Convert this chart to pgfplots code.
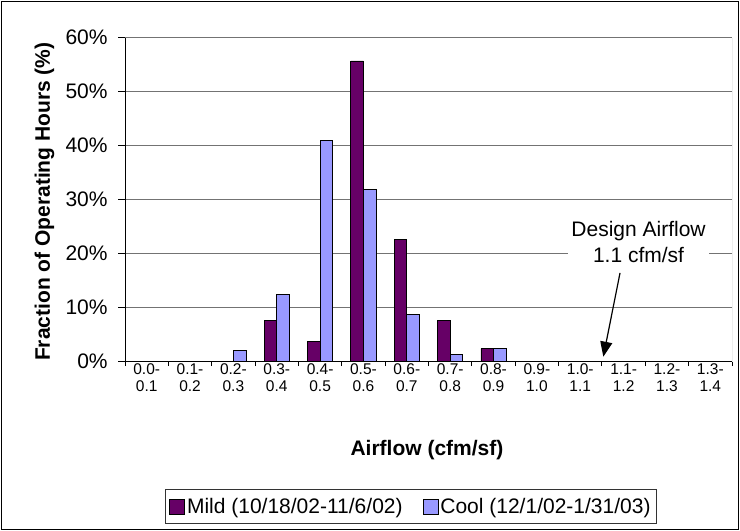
\documentclass[border=0pt]{standalone}
\usepackage{pgfplots}
\pgfplotsset{compat=1.18}
\usepackage{fontspec}
\setmainfont{Liberation Sans}
\usetikzlibrary{arrows.meta}
\definecolor{mild}{HTML}{660066}
\definecolor{cool}{HTML}{9999FF}
\begin{document}
\begin{tikzpicture}[x=1bp,y=1bp]
\path[use as bounding box] (0,0) rectangle (740,531);
\draw[black, line width=1bp] (1.5,1.5) rectangle (738.5,529.5);
\begin{axis}[
  at={(125bp,169.3bp)}, anchor=south west,
  scale only axis, width=607bp, height=324bp,
  ybar=0pt, bar width=12.6bp,
  xmin=-0.5, xmax=13.5, ymin=0, ymax=60,
  axis x line*=bottom, axis y line*=left,
  axis line style={black, line width=1bp},
  ytick={0,10,20,30,40,50,60},
  yticklabels={0\%,10\%,20\%,30\%,40\%,50\%,60\%},
  yticklabel style={font=\fontsize{21bp}{25bp}\selectfont, anchor=east, inner sep=0pt, xshift=-10.5bp},
  xtick={0,1,2,3,4,5,6,7,8,9,10,11,12,13},
  xticklabels={{0.0-\\0.1},{0.1-\\0.2},{0.2-\\0.3},{0.3-\\0.4},{0.4-\\0.5},{0.5-\\0.6},{0.6-\\0.7},{0.7-\\0.8},{0.8-\\0.9},{0.9-\\1.0},{1.0-\\1.1},{1.1-\\1.2},{1.2-\\1.3},{1.3-\\1.4}},
  xticklabel style={align=center, font=\fontsize{15.5bp}{17.3bp}\selectfont, anchor=north, inner sep=0pt, yshift=5bp},
  minor xtick={-0.5,0.5,1.5,2.5,3.5,4.5,5.5,6.5,7.5,8.5,9.5,10.5,11.5,12.5,13.5},
  tick align=outside,
  major tick length=6.7bp,
  minor tick length=4.5bp,
  major x tick style={draw=none},
  minor x tick style={black, line width=1bp},
  major y tick style={black, line width=1bp},
  ymajorgrids, grid style={black!55, line width=1bp},
  xlabel={Airflow (cfm/sf)},
  xlabel style={at={(axis description cs:0.4975,-0.291)}, anchor=base, font=\bfseries\fontsize{21bp}{25bp}\selectfont},
  ylabel={Fraction of Operating Hours (\%)},
  ylabel style={at={(axis description cs:-0.1236,0.494)}, anchor=base, font=\bfseries\fontsize{21bp}{25bp}\selectfont},
  legend columns=2,
  legend image code/.code={\draw[#1,draw=black,line width=0.8bp] (0bp,-7.5bp) rectangle (15bp,7.5bp);},
  legend style={at={(axis description cs:0.471,-0.447)}, anchor=center, draw=black!80, line width=1bp,
    font=\fontsize{21bp}{25bp}\selectfont, inner xsep=4bp, inner ysep=6.5bp,
    /tikz/every even column/.append style={column sep=18bp}},
]
\addplot[fill=mild, draw=black, line width=0.8bp] coordinates {(3,7.6) (4,3.8) (5,55.7) (6,22.6) (7,7.6) (8,2.4)};
\addlegendentry{Mild (10/18/02-11/6/02)}
\addplot[fill=cool, draw=black, line width=0.8bp] coordinates {(2,2.0) (3,12.5) (4,40.9) (5,31.9) (6,8.7) (7,1.4) (8,2.4)};
\addlegendentry{Cool (12/1/02-1/31/03)}
\draw[black!55, line width=1bp] (rel axis cs:1,0) -- (rel axis cs:1,1);
\node[fill=white, align=center, inner xsep=3bp, inner ysep=4bp, font=\fontsize{21bp}{26.5bp}\selectfont] at (rel axis cs:0.846,0.37) {Design Airflow\\1.1 cfm/sf};
\draw[line width=1.2bp, -{Triangle[length=15bp, width=12bp]}] (rel axis cs:0.8155,0.274) -- (rel axis cs:0.788,0.0154);
\end{axis}
\end{tikzpicture}
\end{document}
